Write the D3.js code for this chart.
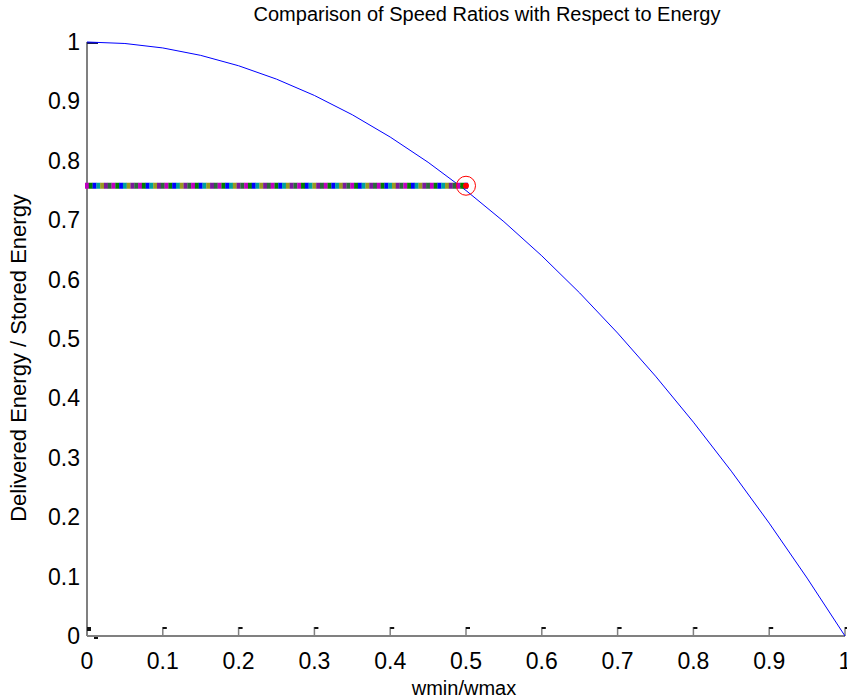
<!DOCTYPE html>
<html>
<head>
<meta charset="utf-8">
<script src="https://cdn.jsdelivr.net/npm/d3@7"></script>
<style>
  body { margin: 0; background: #fff; }
  svg { font-family: "Liberation Sans", Arial, sans-serif; }
</style>
</head>
<body>
<div id="chart"></div>
<script>
// curve
const curveX = [0, 0.05, 0.1, 0.15, 0.2, 0.25, 0.3, 0.35, 0.4, 0.45, 0.5,
  0.55, 0.6, 0.65, 0.7, 0.75, 0.8, 0.85, 0.9, 0.95, 1];
const curveY = [1, 0.9975, 0.99, 0.9775, 0.96, 0.9375, 0.91, 0.8775, 0.84, 0.7975, 0.75,
  0.6975, 0.64, 0.5775, 0.51, 0.4375, 0.36, 0.2775, 0.19, 0.0975, 0];

// dotted marker line at the chosen ratio
const markerX = [0, 0.005, 0.01, 0.015, 0.02, 0.025, 0.03, 0.035, 0.04, 0.045,
  0.05, 0.055, 0.06, 0.065, 0.07, 0.075, 0.08, 0.085, 0.09, 0.095,
  0.1, 0.105, 0.11, 0.115, 0.12, 0.125, 0.13, 0.135, 0.14, 0.145,
  0.15, 0.155, 0.16, 0.165, 0.17, 0.175, 0.18, 0.185, 0.19, 0.195,
  0.2, 0.205, 0.21, 0.215, 0.22, 0.225, 0.23, 0.235, 0.24, 0.245,
  0.25, 0.255, 0.26, 0.265, 0.27, 0.275, 0.28, 0.285, 0.29, 0.295,
  0.3, 0.305, 0.31, 0.315, 0.32, 0.325, 0.33, 0.335, 0.34, 0.345,
  0.35, 0.355, 0.36, 0.365, 0.37, 0.375, 0.38, 0.385, 0.39, 0.395,
  0.4, 0.405, 0.41, 0.415, 0.42, 0.425, 0.43, 0.435, 0.44, 0.445,
  0.45, 0.455, 0.46, 0.465, 0.47, 0.475, 0.48, 0.485, 0.49, 0.495, 0.5];
const markerY = 0.758;
const highlight = { x: 0.5, y: 0.758 };

const xTicks = [0, 0.1, 0.2, 0.3, 0.4, 0.5, 0.6, 0.7, 0.8, 0.9, 1];
const yTicks = [0, 0.1, 0.2, 0.3, 0.4, 0.5, 0.6, 0.7, 0.8, 0.9, 1];
const markerColors = ["#bf00bf", "#008000", "#0000ff", "#00a0a0", "#9a9a20", "#7a1a9a", "#2a6a3a"];

const width = 847, height = 699;
const margin = { top: 42, right: 2, bottom: 63, left: 87 };

const svg = d3.select("#chart").append("svg")
  .attr("width", width)
  .attr("height", height);

const x = d3.scaleLinear().domain([0, 1]).range([margin.left, width - margin.right]);
const y = d3.scaleLinear().domain([0, 1]).range([height - margin.bottom, margin.top]);

// axes lines
svg.append("line")
  .attr("x1", x(0)).attr("x2", x(0))
  .attr("y1", y(1)).attr("y2", y(0))
  .attr("stroke", "#808080").attr("stroke-width", 2);
svg.append("line")
  .attr("x1", x(0)).attr("x2", x(1))
  .attr("y1", y(0)).attr("y2", y(0))
  .attr("stroke", "#808080").attr("stroke-width", 2);

// x ticks with the little hook at the top
const xt = svg.append("g").selectAll("g").data(xTicks).join("g")
  .attr("transform", d => `translate(${x(d)},${y(0)})`);
xt.append("line")
  .attr("y1", 0).attr("y2", -9)
  .attr("stroke", "#808080").attr("stroke-width", 1.5);
xt.append("line")
  .attr("x1", 0).attr("x2", 4).attr("y1", -8).attr("y2", -8)
  .attr("stroke", "#111").attr("stroke-width", 2);
xt.append("text")
  .attr("y", 33)
  .attr("text-anchor", "middle")
  .attr("font-size", 23)
  .text(d => d);

// y tick labels
svg.append("g").selectAll("text").data(yTicks).join("text")
  .attr("x", x(0) - 7)
  .attr("y", d => y(d) + 8)
  .attr("text-anchor", "end")
  .attr("font-size", 23)
  .text(d => d);

// small dashes at the corners
svg.append("line")
  .attr("x1", x(0)).attr("x2", x(0) + 11).attr("y1", y(1) + 1).attr("y2", y(1) + 1)
  .attr("stroke", "#1a1a5a").attr("stroke-width", 2);
svg.append("line")
  .attr("x1", x(0)).attr("x2", x(0) + 4).attr("y1", y(0) - 6).attr("y2", y(0) - 6)
  .attr("stroke", "#111").attr("stroke-width", 2);
svg.append("line")
  .attr("x1", x(0) + 7).attr("x2", x(0) + 11).attr("y1", y(0) + 2).attr("y2", y(0) + 2)
  .attr("stroke", "#111").attr("stroke-width", 2);

// curve
svg.append("path")
  .datum(curveX.map((d, i) => [d, curveY[i]]))
  .attr("fill", "none")
  .attr("stroke", "#0000ff")
  .attr("stroke-width", 1)
  .attr("d", d3.line().x(d => x(d[0])).y(d => y(d[1])));

// multicolour marker line
svg.append("g").selectAll("rect").data(markerX).join("rect")
  .attr("x", d => x(d) - 2)
  .attr("y", y(markerY) - 3)
  .attr("width", 4)
  .attr("height", 6)
  .attr("fill", (d, i) => markerColors[i % markerColors.length]);

// end point and circle
svg.append("circle")
  .attr("cx", x(highlight.x)).attr("cy", y(highlight.y))
  .attr("r", 3).attr("fill", "#ff0000");
svg.append("circle")
  .attr("cx", x(highlight.x)).attr("cy", y(highlight.y))
  .attr("r", 9.5).attr("fill", "none")
  .attr("stroke", "#ff0000").attr("stroke-width", 1);

// title and labels
svg.append("text")
  .attr("x", 487)
  .attr("y", 21)
  .attr("text-anchor", "middle")
  .attr("font-size", 20)
  .text("Comparison of Speed Ratios with Respect to Energy");

svg.append("text")
  .attr("x", 464)
  .attr("y", 695)
  .attr("text-anchor", "middle")
  .attr("font-size", 20)
  .text("wmin/wmax");

svg.append("text")
  .attr("transform", "translate(26,358) rotate(-90)")
  .attr("text-anchor", "middle")
  .attr("font-size", 22)
  .text("Delivered Energy / Stored Energy");
</script>
</body>
</html>
